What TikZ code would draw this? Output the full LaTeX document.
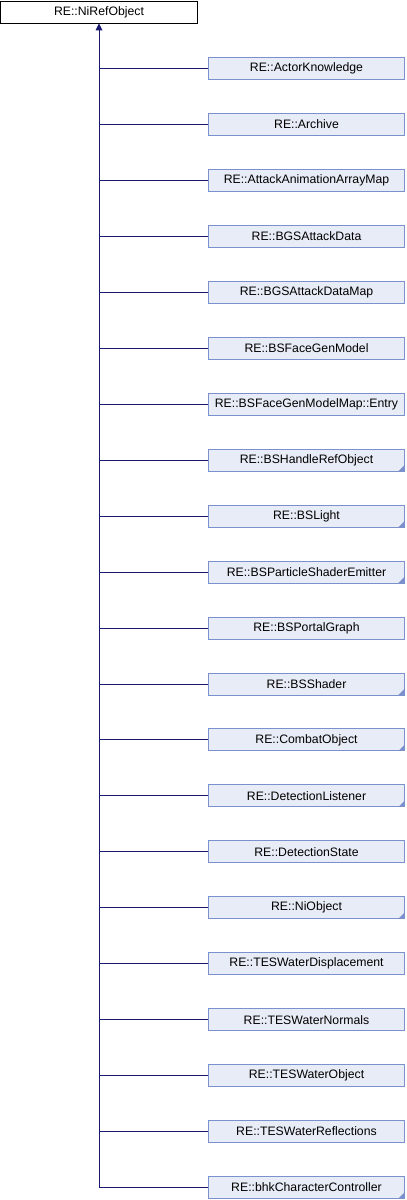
\documentclass[tikz,border=0pt]{standalone}
\usepackage{fontspec}
\setmainfont{Liberation Sans}
\definecolor{boxfill}{HTML}{E8ECF6}
\definecolor{boxdraw}{HTML}{7A91CD}
\definecolor{edgecol}{HTML}{191970}
\begin{document}
\begin{tikzpicture}[x=1bp,y=-1bp,
  rootbox/.style={draw=black,fill=white,line width=0.9bp,minimum width=197bp,minimum height=22bp,inner sep=0pt,font=\fontsize{12.3}{14}\selectfont},
  childbox/.style={draw=boxdraw,fill=boxfill,line width=0.9bp,minimum width=196bp,minimum height=22bp,inner sep=0pt,font=\fontsize{12.3}{14}\selectfont},
  edge/.style={draw=edgecol,line width=0.9bp},
  fold/.style={fill=boxdraw}]
\useasboundingbox (0,0) rectangle (406,1200);
\node[rootbox] (root) at (99,12) {RE::NiRefObject};
\foreach \i/\name/\t/\f in {
  0/c0/RE::ActorKnowledge/0,
  1/c1/RE::Archive/0,
  2/c2/RE::AttackAnimationArrayMap/0,
  3/c3/RE::BGSAttackData/0,
  4/c4/RE::BGSAttackDataMap/0,
  5/c5/RE::BSFaceGenModel/0,
  6/c6/RE::BSFaceGenModelMap::Entry/0,
  7/c7/RE::BSHandleRefObject/1,
  8/c8/RE::BSLight/1,
  9/c9/RE::BSParticleShaderEmitter/1,
  10/c10/RE::BSPortalGraph/0,
  11/c11/RE::BSShader/1,
  12/c12/RE::CombatObject/1,
  13/c13/RE::DetectionListener/1,
  14/c14/RE::DetectionState/0,
  15/c15/RE::NiObject/1,
  16/c16/RE::TESWaterDisplacement/0,
  17/c17/RE::TESWaterNormals/0,
  18/c18/RE::TESWaterObject/0,
  19/c19/RE::TESWaterReflections/0,
  20/c20/RE::bhkCharacterController/1} {
  \node[childbox] (\name) at (306.5,{68.5+55.95*\i}) {\t};
  \ifnum\f=1
    \fill[fold] ([xshift=-0.5bp,yshift=0.5bp]\name.south east) -- ++(0,-6) -- ++(-6,6) -- cycle;
  \fi
  \ifnum\i<20
    \draw[edge] (99,{68.5+55.95*\i}) -- (\name.west);
  \fi
}
\coordinate (bend) at (99,{68.5+55.95*20});
\draw[edge] (c20.west) -- (bend) -- ([yshift=-7bp]root.south);
\fill[edgecol] (root.south) -- ++(-3.5,7) -- ++(7,0) -- cycle;
\end{tikzpicture}
\end{document}
